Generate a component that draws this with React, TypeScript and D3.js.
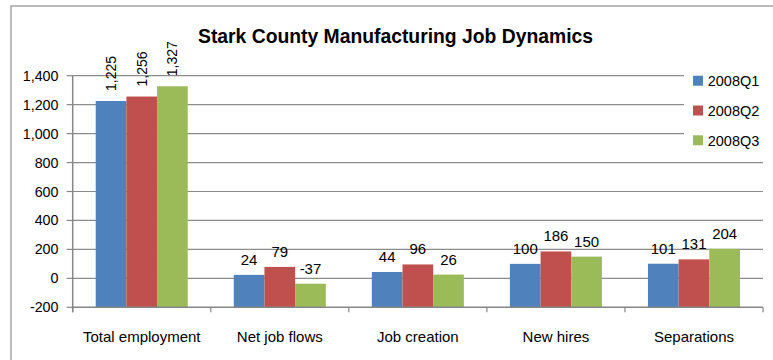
import React from "react";
import * as d3 from "d3";

const title = "Stark County Manufacturing Job Dynamics";
const categories = ["Total employment", "Net job flows", "Job creation", "New hires", "Separations"];
const seriesNames = ["2008Q1", "2008Q2", "2008Q3"];
const q1 = [1225, 24, 44, 100, 101];
const q2 = [1256, 79, 96, 186, 131];
const q3 = [1327, -37, 26, 150, 204];
const yTicks = [-200, 0, 200, 400, 600, 800, 1000, 1200, 1400];
const colors = ["#4F81BD", "#C0504D", "#9BBB59"];

const W = 773;
const H = 360;
const plotLeft = 72.7;
const plotRight = 763;
const plotTop = 75.7;
const plotBottom = 307.3;
const FONT = "'Liberation Sans', Arial, sans-serif";

export default function App() {
  const seriesValues = [q1, q2, q3];
  const x0 = d3.scaleBand<string>().domain(categories).range([plotLeft, plotRight]).padding(0);
  const x1 = d3
    .scaleBand<string>()
    .domain(seriesNames)
    .range([0, x0.bandwidth()])
    .paddingInner(0)
    .paddingOuter(0.75);
  const y = d3.scaleLinear().domain([-200, 1400]).range([plotBottom, plotTop]);
  const base = y.domain()[0];
  const fmt0 = d3.format(",");
  const fmt = (v: number) => fmt0(v).replace("\u2212", "-");

  const boundaries = d3.range(categories.length + 1).map((i) => plotLeft + i * x0.step());

  return (
    <svg
      width={W}
      height={H}
      style={{ position: "absolute", left: 0, top: 0, background: "#fff" }}
      fontFamily={FONT}
    >
      <rect x={0} y={0} width={W} height={H} fill="#fff" />
      <rect x={11} y={6} width={800} height={400} fill="#fff" stroke="#a6a6a6" strokeWidth={1.5} />

      {/* gridlines */}
      {yTicks
        .filter((t) => t !== base)
        .map((t) => (
          <line key={"g" + t} x1={plotLeft} x2={plotRight} y1={y(t)} y2={y(t)} stroke="#8c8c8c" strokeWidth={1.2} />
        ))}

      {/* bars (Excel axis crosses at the minimum, so bars grow from it) */}
      {categories.map((c, ci) => (
        <g key={c}>
          {seriesNames.map((s, si) => {
            const v = seriesValues[si][ci];
            const bx = (x0(c) as number) + (x1(s) as number);
            return (
              <rect
                key={s}
                x={bx}
                y={y(v)}
                width={x1.bandwidth()}
                height={y(base) - y(v)}
                fill={colors[si]}
              />
            );
          })}
        </g>
      ))}

      {/* axes */}
      <line x1={plotLeft} x2={plotLeft} y1={plotTop} y2={plotBottom + 5} stroke="#868686" strokeWidth={1.5} />
      <line x1={plotLeft} x2={plotRight} y1={plotBottom} y2={plotBottom} stroke="#868686" strokeWidth={1.5} />
      {yTicks.map((t) => (
        <g key={"t" + t}>
          <line x1={plotLeft - 6} x2={plotLeft} y1={y(t)} y2={y(t)} stroke="#868686" strokeWidth={1.2} />
          <text x={58.5} y={y(t) + 5} textAnchor="end" fontSize={14.3} fill="#000">
            {fmt(t)}
          </text>
        </g>
      ))}
      {boundaries.map((bx, i) => (
        <line key={"xb" + i} x1={bx} x2={bx} y1={plotBottom} y2={plotBottom + 5} stroke="#868686" strokeWidth={1.2} />
      ))}
      {categories.map((c) => (
        <text
          key={"cl" + c}
          x={(x0(c) as number) + x0.bandwidth() / 2}
          y={341.7}
          textAnchor="middle"
          fontSize={15}
          fill="#000"
        >
          {c}
        </text>
      ))}

      {/* data labels */}
      {categories.map((c, ci) =>
        seriesNames.map((s, si) => {
          const v = seriesValues[si][ci];
          const cx = (x0(c) as number) + (x1(s) as number) + x1.bandwidth() / 2;
          const label = fmt(v);
          const yy = y(v) - 10;
          if (Math.abs(v) >= 1000) {
            return (
              <text
                key={"dl" + c + s}
                transform={`translate(${cx},${yy}) rotate(-90)`}
                dy="0.35em"
                textAnchor="start"
                fontSize={14}
                fill="#000"
              >
                {label}
              </text>
            );
          }
          return (
            <text key={"dl" + c + s} x={cx} y={yy} textAnchor="middle" fontSize={15} fill="#000">
              {label}
            </text>
          );
        })
      )}

      {/* legend */}
      <rect x={684} y={64} width={89} height={86} fill="#fff" />
      {seriesNames.map((s, i) => (
        <g key={"lg" + s}>
          <rect x={693} y={75.7 + i * 29.8} width={10} height={10} fill={colors[i]} />
          <text x={707.7} y={86.2 + i * 29.8} fontSize={14.5} fill="#000">
            {s}
          </text>
        </g>
      ))}

      {/* title */}
      <text
        x={395.5}
        y={43}
        textAnchor="middle"
        fontSize={20}
        fontWeight="bold"
        fill="#000"
        textLength={395}
        lengthAdjust="spacingAndGlyphs"
      >
        {title}
      </text>
    </svg>
  );
}
